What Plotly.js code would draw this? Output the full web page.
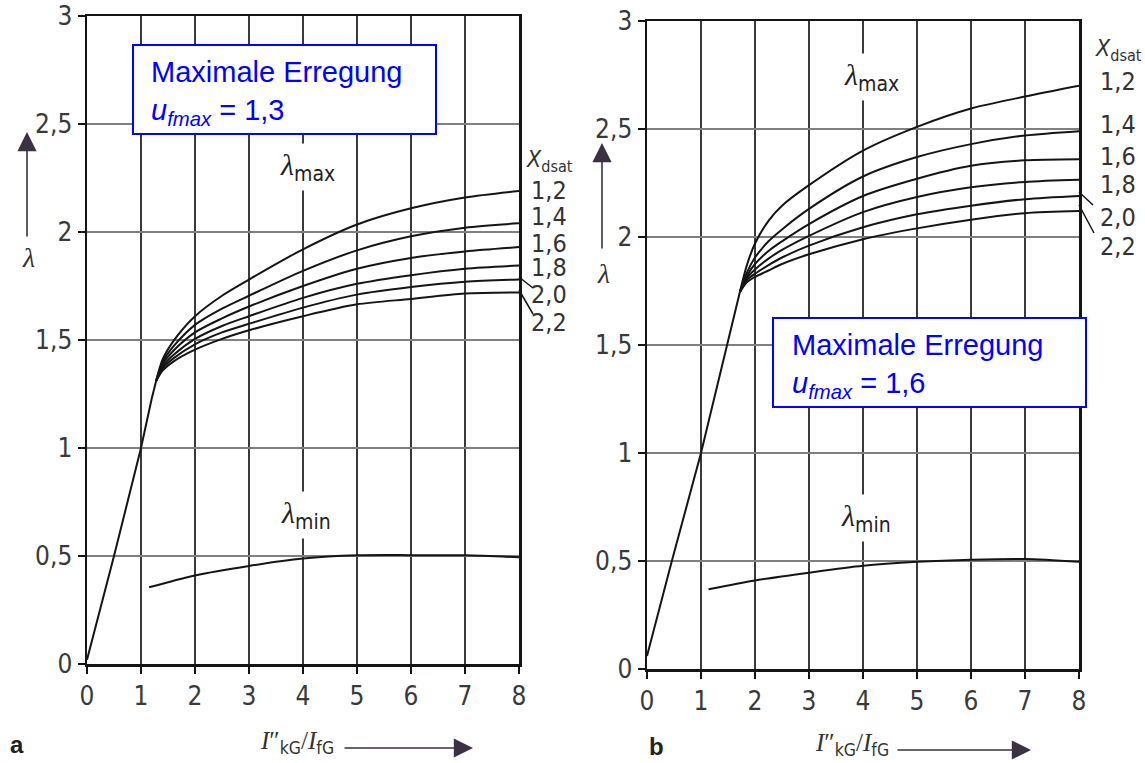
<!DOCTYPE html>
<html>
<head>
<meta charset="utf-8">
<script src="https://cdn.plot.ly/plotly-3.0.1.min.js"></script>
<style>html,body{margin:0;padding:0;background:#fff;}#chart{width:1145px;height:763px;}</style>
</head>
<body>
<div id="chart"></div>
<script>
// ---------- data ----------
const xTicks = [0, 1, 2, 3, 4, 5, 6, 7, 8];
const yTickVals = [0, 0.5, 1, 1.5, 2, 2.5, 3];
const yTickText = ['0', '0,5', '1', '1,5', '2', '2,5', '3'];
const xdsatLabels = ['1,2', '1,4', '1,6', '1,8', '2,0', '2,2'];

// panel a (u_fmax = 1,3)
const riseAx = [0, 0.5, 1.0, 1.1, 1.2, 1.28];
const riseAy = [0.02, 0.5, 1.0, 1.12, 1.23, 1.31];
const fanAx = [1.28, 1.4, 1.6, 2, 2.5, 3, 4, 5, 6, 7, 8];
const fanA12 = [1.31, 1.41, 1.495, 1.61, 1.705, 1.78, 1.92, 2.035, 2.11, 2.16, 2.19];
const fanA14 = [1.31, 1.398, 1.47, 1.57, 1.645, 1.705, 1.82, 1.915, 1.98, 2.02, 2.04];
const fanA16 = [1.31, 1.388, 1.45, 1.535, 1.60, 1.655, 1.75, 1.83, 1.88, 1.91, 1.93];
const fanA18 = [1.31, 1.378, 1.43, 1.505, 1.565, 1.61, 1.695, 1.76, 1.80, 1.83, 1.845];
const fanA20 = [1.31, 1.368, 1.415, 1.48, 1.535, 1.575, 1.65, 1.71, 1.745, 1.77, 1.78];
const fanA22 = [1.31, 1.358, 1.40, 1.455, 1.505, 1.545, 1.61, 1.665, 1.69, 1.715, 1.72];
const minAx = [1.15, 2, 3, 4, 5, 6, 7, 8];
const minAy = [0.355, 0.41, 0.454, 0.488, 0.503, 0.504, 0.503, 0.494];

// panel b (u_fmax = 1,6)
const riseBx = [0, 0.46, 1.0, 1.5, 1.72];
const riseBy = [0.06, 0.5, 1.0, 1.52, 1.745];
const fanBx = [1.72, 1.85, 2, 2.25, 2.5, 3, 4, 5, 6, 7, 8];
const fanB12 = [1.745, 1.87, 1.97, 2.075, 2.145, 2.24, 2.40, 2.51, 2.595, 2.65, 2.70];
const fanB14 = [1.745, 1.835, 1.905, 1.98, 2.035, 2.13, 2.28, 2.37, 2.43, 2.47, 2.49];
const fanB16 = [1.745, 1.82, 1.875, 1.935, 1.98, 2.06, 2.19, 2.27, 2.33, 2.355, 2.36];
const fanB18 = [1.745, 1.81, 1.85, 1.90, 1.94, 2.005, 2.115, 2.185, 2.23, 2.255, 2.265];
const fanB20 = [1.745, 1.80, 1.83, 1.87, 1.905, 1.96, 2.045, 2.105, 2.145, 2.175, 2.19];
const fanB22 = [1.745, 1.79, 1.815, 1.845, 1.875, 1.92, 1.99, 2.04, 2.08, 2.11, 2.12];
const minBx = [1.14, 2, 3, 4, 5, 6, 7, 8];
const minBy = [0.369, 0.41, 0.446, 0.478, 0.496, 0.506, 0.509, 0.496];

// ---------- helpers ----------
const W = 1145, H = 763;
const px = v => v / W;
const py = v => 1 - v / H;
const NARROW = '"DejaVu Sans Condensed", "Liberation Sans Narrow", sans-serif';
const SERIF = '"Liberation Serif", "DejaVu Serif", serif';
const INK = '#151515';

function line(x, y, xa, ya, smooth) {
  return {x: x, y: y, xaxis: xa, yaxis: ya, type: 'scatter', mode: 'lines',
    line: {color: INK, width: 2, shape: smooth ? 'spline' : 'linear', smoothing: 0.8},
    hoverinfo: 'skip', showlegend: false};
}

const traces = [
  line(riseAx, riseAy, 'x', 'y', false),
  line(fanAx, fanA12, 'x', 'y', true),
  line(fanAx, fanA14, 'x', 'y', true),
  line(fanAx, fanA16, 'x', 'y', true),
  line(fanAx, fanA18, 'x', 'y', true),
  line(fanAx, fanA20, 'x', 'y', true),
  line(fanAx, fanA22, 'x', 'y', true),
  line(minAx, minAy, 'x', 'y', true),
  line(riseBx, riseBy, 'x2', 'y2', false),
  line(fanBx, fanB12, 'x2', 'y2', true),
  line(fanBx, fanB14, 'x2', 'y2', true),
  line(fanBx, fanB16, 'x2', 'y2', true),
  line(fanBx, fanB18, 'x2', 'y2', true),
  line(fanBx, fanB20, 'x2', 'y2', true),
  line(fanBx, fanB22, 'x2', 'y2', true),
  line(minBx, minBy, 'x2', 'y2', true)
];

function xax(dom) {
  return {domain: dom, range: [0, 8], tickvals: xTicks, ticktext: xTicks.map(String),
    showgrid: true, gridcolor: '#3a3a3a', gridwidth: 1.3, zeroline: false,
    showline: true, linecolor: INK, linewidth: 2.5, mirror: true,
    ticks: 'outside', ticklen: 7, tickcolor: INK, tickwidth: 1.5,
    ticklabeloverflow: 'allow',
    tickfont: {family: NARROW, size: 26, color: '#3a3a3a'}, fixedrange: true};
}
function yax(dom, anchor) {
  return {domain: dom, range: [0, 3], tickvals: yTickVals, ticktext: yTickText, anchor: anchor,
    showgrid: true, gridcolor: '#808080', gridwidth: 1.2, zeroline: false,
    showline: true, linecolor: INK, linewidth: 2.5, mirror: true,
    ticks: 'outside', ticklen: 7, tickcolor: INK, tickwidth: 1.5,
    ticklabeloverflow: 'allow',
    tickfont: {family: NARROW, size: 26, color: '#3a3a3a'}, fixedrange: true};
}

const annotations = [];
function txt(x, y, text, size, opts) {
  annotations.push(Object.assign({xref: 'paper', yref: 'paper', x: px(x), y: py(y), text: text,
    showarrow: false, xanchor: 'center', yanchor: 'middle',
    font: {family: NARROW, size: size, color: '#333'}}, opts || {}));
}
function arrow(hx, hy, tx, ty) {
  annotations.push({xref: 'paper', yref: 'paper', x: px(hx), y: py(hy), text: '',
    showarrow: true, ax: tx - hx, ay: ty - hy, arrowhead: 2, arrowsize: 2.4,
    arrowwidth: 1.6, arrowcolor: '#3b3142'});
}

// curve name labels (data coordinates, white background cuts gridline)
const SUBSTYLE = 'font-family:DejaVu Sans Condensed;font-style:normal';
const lamMax = '<i>λ</i><sub><span style="' + SUBSTYLE + '">max</span></sub>';
const lamMin = '<i>λ</i><sub><span style="' + SUBSTYLE + '">min</span></sub>';
const lamFont = {family: SERIF, size: 30, color: '#222'};
annotations.push({xref: 'x', yref: 'y', x: 4.09, y: 2.30, text: lamMax, showarrow: false,
  bgcolor: '#fff', borderpad: 4, font: lamFont});
annotations.push({xref: 'x', yref: 'y', x: 4.06, y: 0.69, text: lamMin, showarrow: false,
  bgcolor: '#fff', borderpad: 4, font: lamFont});
annotations.push({xref: 'x2', yref: 'y2', x: 4.15, y: 2.74, text: lamMax, showarrow: false,
  bgcolor: '#fff', borderpad: 4, font: lamFont});
annotations.push({xref: 'x2', yref: 'y2', x: 4.06, y: 0.70, text: lamMin, showarrow: false,
  bgcolor: '#fff', borderpad: 4, font: lamFont});

// X_dsat labels
const xdsat = '<i>X</i><sub>dsat</sub>';
txt(549, 161, xdsat, 23);
const yA = [190, 216, 243, 268, 295, 322];
xdsatLabels.forEach((t, i) => txt(549, yA[i], t, 25));
txt(1118, 50, xdsat, 23);
const yB = [82, 125, 157, 185, 217, 246];
xdsatLabels.forEach((t, i) => txt(1118, yB[i], t, 25));

// y axis labels with arrows
arrow(27, 132, 27, 238);
txt(28, 258, '<i>λ</i>', 26, {font: {family: SERIF, size: 28, color: '#333'}});
arrow(602, 143, 602, 250);
txt(603, 273, '<i>λ</i>', 26, {font: {family: SERIF, size: 28, color: '#333'}});

// x axis labels with arrows
const xlab = '<i>I</i>″<sub><span style="' + SUBSTYLE + '">kG</span></sub>/<i>I</i><sub><span style="' + SUBSTYLE + '">fG</span></sub>';
txt(297, 742, xlab, 24, {font: {family: SERIF, size: 25, color: '#333'}});
arrow(473, 748, 343, 748);
txt(852, 744, xlab, 24, {font: {family: SERIF, size: 25, color: '#333'}});
arrow(1031, 750, 896, 750);

// panel letters
txt(17, 744, '<b>a</b>', 24, {font: {family: '"Liberation Sans", Arial, sans-serif', size: 24, color: '#222'}});
txt(656, 746, '<b>b</b>', 24, {font: {family: '"Liberation Sans", Arial, sans-serif', size: 24, color: '#222'}});

// blue boxes text
const blueFont = {family: '"Liberation Sans", Arial, sans-serif', size: 29, color: '#0000ff'};
annotations.push({xref: 'paper', yref: 'paper', x: px(149), y: py(93), xanchor: 'left', yanchor: 'middle',
  align: 'left', showarrow: false, font: blueFont,
  text: 'Maximale Erregung<br><i>u<sub>fmax</sub></i> = 1,3'});
annotations.push({xref: 'paper', yref: 'paper', x: px(790), y: py(366), xanchor: 'left', yanchor: 'middle',
  align: 'left', showarrow: false, font: blueFont,
  text: 'Maximale Erregung<br><i>u<sub>fmax</sub></i> = 1,6'});

const shapes = [
  {type: 'rect', xref: 'paper', yref: 'paper', x0: px(133), x1: px(436), y0: py(45), y1: py(134),
   line: {color: '#0000ff', width: 2}, fillcolor: '#fff', layer: 'above'},
  {type: 'rect', xref: 'paper', yref: 'paper', x0: px(773), x1: px(1086), y0: py(318), y1: py(407),
   line: {color: '#0000ff', width: 2}, fillcolor: '#fff', layer: 'above'},
  // leader lines for 2,0 and 2,2
  {type: 'line', xref: 'paper', yref: 'paper', x0: px(519), y0: py(277), x1: px(533), y1: py(288), line: {color: INK, width: 1.5}},
  {type: 'line', xref: 'paper', yref: 'paper', x0: px(519), y0: py(290), x1: px(533), y1: py(314), line: {color: INK, width: 1.5}},
  {type: 'line', xref: 'paper', yref: 'paper', x0: px(1079), y0: py(192), x1: px(1093), y1: py(205), line: {color: INK, width: 1.5}},
  {type: 'line', xref: 'paper', yref: 'paper', x0: px(1079), y0: py(205), x1: px(1094), y1: py(233), line: {color: INK, width: 1.5}}
];

const layout = {
  width: W, height: H,
  margin: {l: 0, r: 0, t: 0, b: 0},
  paper_bgcolor: '#fff', plot_bgcolor: '#fff',
  showlegend: false,
  xaxis: xax([87 / W, 519 / W]),
  yaxis: yax([(H - 664) / H, (H - 16) / H], 'x'),
  xaxis2: Object.assign(xax([647 / W, 1079 / W]), {anchor: 'y2'}),
  yaxis2: yax([(H - 669) / H, (H - 21) / H], 'x2'),
  annotations: annotations,
  shapes: shapes
};
layout.xaxis.anchor = 'y';

Plotly.newPlot('chart', traces, layout, {displayModeBar: false, staticPlot: true});
</script>
</body>
</html>
